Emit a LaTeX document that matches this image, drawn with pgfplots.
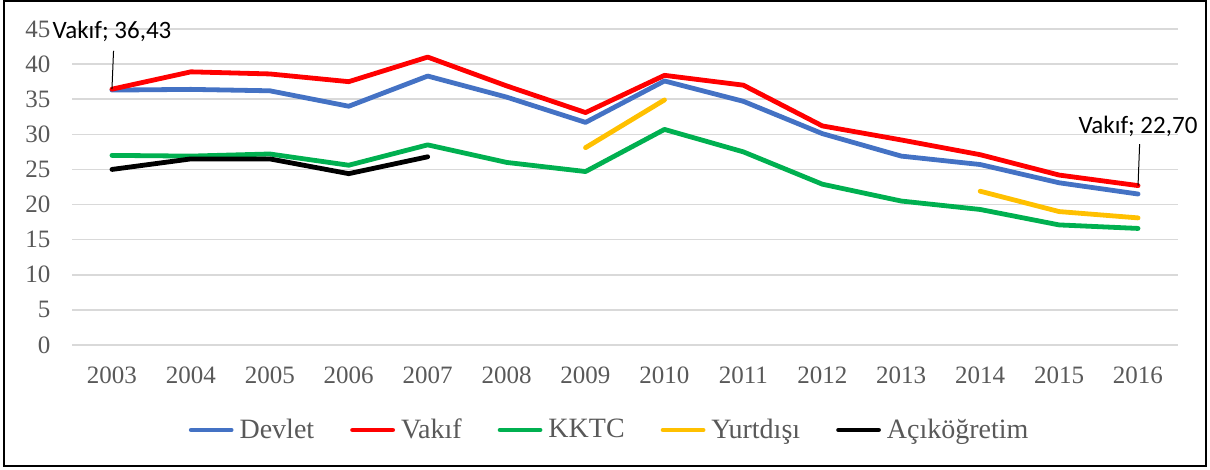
\documentclass[border=0pt]{standalone}
\usepackage{fontspec}
\setmainfont{Liberation Serif}
\newfontfamily\lblfont{Carlito}
\usepackage{pgfplots}
\pgfplotsset{compat=1.18}

\definecolor{cdev}{HTML}{4472C4}
\definecolor{cvak}{HTML}{FF0000}
\definecolor{ckktc}{HTML}{00B050}
\definecolor{cyurt}{HTML}{FFC000}
\definecolor{tickgray}{HTML}{595959}
\definecolor{gridgray}{HTML}{D9D9D9}

\begin{document}
\begin{tikzpicture}
\begin{axis}[
  scale only axis, width=552.5pt, height=158pt,
  xmin=2002.5, xmax=2016.5, ymin=0, ymax=45,
  xtick={2003,...,2016}, ytick={0,5,...,45},
  axis line style={draw=none}, major tick length=0pt,
  ymajorgrids, grid style={line width=0.75pt, gridgray},
  tick label style={font=\fontsize{12.5}{14}\selectfont, text=tickgray},
  xticklabel style={yshift=-7.5pt},
  yticklabel style={xshift=-7.5pt},
  /pgf/number format/assume math mode=true,
  /pgf/number format/1000 sep={},
  unbounded coords=jump, clip=false,
  every axis plot/.append style={line width=2.4pt, line join=round, line cap=round},
  legend columns=5,
  legend style={at={(0.487,-0.269)}, anchor=center, draw=none, fill=none,
    font=\fontsize{14}{16}\selectfont, text=tickgray,
    /tikz/every odd column/.append style={column sep=1pt},
    /tikz/every even column/.append style={column sep=16pt}},
  legend image code/.code={\draw[#1] (0pt,0pt) -- (20pt,0pt);},
]
\coordinate (O) at (rel axis cs:0,0);
\addplot[cdev] coordinates {(2003,36.3) (2004,36.4) (2005,36.2) (2006,34.0) (2007,38.3) (2008,35.3) (2009,31.7) (2010,37.6) (2011,34.7) (2012,30.1) (2013,26.9) (2014,25.7) (2015,23.1) (2016,21.5)};
\addlegendentry{Devlet}
\addplot[cvak] coordinates {(2003,36.43) (2004,38.9) (2005,38.6) (2006,37.5) (2007,41.0) (2008,36.9) (2009,33.1) (2010,38.4) (2011,37.0) (2012,31.2) (2013,29.2) (2014,27.1) (2015,24.2) (2016,22.70)};
\addlegendentry{Vakıf}
\addplot[ckktc] coordinates {(2003,27.0) (2004,26.9) (2005,27.2) (2006,25.6) (2007,28.5) (2008,26.0) (2009,24.7) (2010,30.7) (2011,27.5) (2012,22.9) (2013,20.5) (2014,19.3) (2015,17.1) (2016,16.6)};
\addlegendentry{KKTC}
\addplot[cyurt] coordinates {(2009,28.1) (2010,34.9) (2011,nan) (2014,21.9) (2015,19.0) (2016,18.1)};
\addlegendentry{Yurtdışı}
\addplot[black] coordinates {(2003,25.0) (2004,26.5) (2005,26.5) (2006,24.4) (2007,26.8)};
\addlegendentry{Açıköğretim}
\draw[line width=0.5pt] (axis cs:2003,36.43) -- (axis cs:2003.02,41.9);
\node[font=\lblfont\fontsize{12.5}{14}\selectfont, inner sep=0pt] at (axis cs:2003,44.7) {Vakıf; 36,43};
\draw[line width=0.5pt] (axis cs:2016,22.70) -- (axis cs:2016.02,28.6);
\node[font=\lblfont\fontsize{12.5}{14}\selectfont, inner sep=0pt] at (axis cs:2016,31.1) {Vakıf; 22,70};
\end{axis}
\path (O) ++(-36.25pt,-62.5pt) rectangle ++(605pt,235pt);
\draw[line width=1pt] (O) ++(-34.25pt,-60.5pt) rectangle ++(601pt,232.25pt);
\end{tikzpicture}
\end{document}
